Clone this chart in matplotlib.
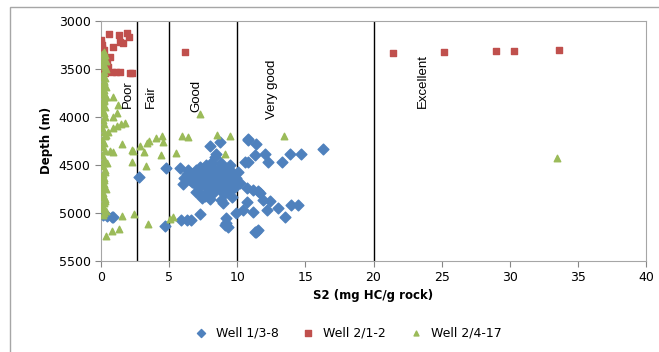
import numpy as np
import matplotlib.pyplot as plt
from matplotlib.patches import Rectangle

# Well 1/3-8 (blue diamonds)
w1_s2 = [0.17, 0.42, 0.78, 0.9, 2.8, 4.74, 4.7, 5.79, 6.1, 6.5, 7.25, 7.74, 8.1, 8.84, 9.45,
         10.06, 6.96, 7.5, 7.98, 8.48, 8.96, 9.45, 9.7, 7.13, 7.74, 8.35, 8.96, 9.7, 8.84,
         7.38, 8.0, 8.84, 9.58, 8.96, 10.55, 10.8, 11.4, 10.68, 11.16, 11.65, 11.9, 10.68,
         11.16, 10.42, 12.4, 13.0, 13.5, 13.97, 14.45, 16.3, 6.28, 5.9, 6.6, 7.25, 9.2, 9.08,
         9.33, 9.94, 11.4, 11.28, 11.5, 8.0, 8.7, 8.47, 11.28, 12.0, 12.25, 13.3, 13.85, 14.65,
         10.8, 12.16, 10.8, 11.5, 6.4, 6.8, 7.0, 7.6, 8.2, 8.6, 9.1, 9.6, 6.3, 7.2, 7.9, 8.5,
         9.3, 9.9, 6.0, 6.7, 7.4, 8.0, 8.7, 9.4, 7.0, 7.8, 8.3, 9.0, 9.6, 10.2, 8.4, 7.6, 9.2,
         7.3, 8.1, 8.9, 9.5, 7.7, 8.5, 6.6, 9.8, 8.2, 7.1]
w1_depth = [5026, 5036, 5043, 5043, 4627, 4540, 5140, 4540, 4644, 4660, 4523, 4505, 4488,
            4480, 4505, 4575, 4627, 4644, 4627, 4575, 4610, 4627, 4680, 4731, 4731, 4696,
            4713, 4748, 4765, 4852, 4862, 4870, 4835, 4904, 4470, 4245, 4283, 4748, 4765,
            4800, 4870, 4887, 4991, 4974, 4877, 4956, 5043, 4922, 4922, 4342, 5078, 5078,
            5078, 5020, 5061, 5130, 5148, 5009, 5200, 5200, 5183, 4308, 4262, 4390, 4400,
            4390, 4470, 4470, 4390, 4390, 4477, 4974, 4238, 4780, 4560, 4590, 4560, 4570,
            4550, 4540, 4560, 4580, 4600, 4600, 4600, 4600, 4650, 4640, 4700, 4680, 4680,
            4670, 4740, 4760, 4790, 4800, 4790, 4810, 4700, 4690, 4420, 4830, 5110,
            4660, 4650, 4660, 4620, 4620, 4720, 4600, 4730, 4760, 4780]

# Well 2/1-2 (red squares)
w2_s2 = [0.0, 0.0, 0.05, 0.17, 0.3, 0.42, 0.66, 0.54, 0.9, 1.4, 1.65, 0.58, 1.32, 1.93, 2.08,
         0.78, 1.1, 1.36, 2.13, 2.3, 0.3, 0.05, 0.1, 0.2, 0.35, 0.15, 0.25, 6.2,
         21.4, 25.2, 28.96, 30.3, 33.6]
w2_depth = [3238, 3203, 3290, 3342, 3394, 3440, 3377, 3481, 3273, 3220, 3230, 3140, 3151,
            3127, 3175, 3533, 3533, 3533, 3550, 3550, 3550, 3500, 3260, 3310, 3420, 3460,
            3520, 3331, 3342, 3325, 3318, 3318, 3311]

# Well 2/4-17 (green triangles)
w3_s2 = [0.25, 0.3, 0.2, 0.35, 0.15, 0.3, 0.4, 0.2, 0.1, 0.3, 0.25, 0.15, 0.35, 0.2, 0.1,
         0.3, 0.2, 0.25, 0.15, 0.3, 0.1, 0.2, 0.3, 0.15, 0.25, 0.05, 0.2, 0.3, 0.1, 0.2,
         0.15, 0.3, 0.1, 0.25, 0.2, 0.05, 0.3, 0.15, 0.2, 0.1, 0.25, 0.35, 0.15, 0.2, 0.3,
         0.1, 0.25, 0.2, 0.15, 0.3, 0.2, 0.1, 0.25, 0.35,
         0.1, 0.2, 0.05, 0.15, 0.25, 0.1, 0.05, 0.2, 0.1, 0.15, 0.05, 0.2, 0.1, 0.3, 0.05,
         0.9, 0.37, 1.27, 1.15, 0.9, 1.76, 1.5, 1.2, 0.9, 0.54, 0.4, 7.25, 1.52, 0.66, 0.9,
         2.25, 2.35, 2.86, 3.15, 3.4, 3.5, 4.0, 4.5, 4.55, 4.4, 5.5, 5.96, 6.42, 8.55, 9.45,
         9.08, 13.43, 2.27, 3.27, 0.42, 1.52, 2.44, 3.47, 1.34, 0.78, 0.37, 5.05, 5.3, 33.5]
w3_depth = [3330, 3360, 3390, 3420, 3450, 3480, 3510, 3540, 3570, 3600, 3630, 3660, 3690,
            3720, 3750, 3780, 3810, 3840, 3870, 3900, 3930, 3960, 4000, 4040, 4080, 4120,
            4160, 4200, 4240, 4280, 4320, 4360, 4400, 4440, 4480, 4520, 4560, 4600, 4640,
            4680, 4720, 4760, 4800, 4840, 4880, 4920, 4960, 5000, 5030, 4580, 4700, 4820,
            4900, 4980,
            3345, 3405, 3465, 3585, 3645, 3705, 3765, 3825, 3885, 3945, 4620, 4660, 4740,
            4860, 4950,
            3794, 3794, 3880, 3967, 4002, 4071, 4083, 4100, 4120, 4158, 4190, 3977, 4286,
            4356, 4366, 4349, 4356, 4307, 4366, 4280, 4257, 4220, 4200, 4263, 4400, 4383,
            4203, 4210, 4193, 4203, 4390, 4203, 4470, 4516, 4488, 5033, 5016, 5123, 5172,
            5193, 5242, 5068, 5050, 4435]

class_bounds = [2.65, 5, 10, 20]
class_names = ["Poor", "Fair", "Good", "Very good", "Excellent"]
class_x = [1.94, 3.67, 6.97, 12.55, 23.6]
class_y = [3766, 3792, 3781, 3714, 3630]

fig = plt.figure(figsize=(6.59, 3.52), dpi=100)
ax = fig.add_axes([101 / 659, 1 - 260.5 / 352, 545 / 659, 240 / 352])

# outer chart frame
fig.patches.append(Rectangle((10 / 659, -0.1), 1.2, 1 - 7 / 352 + 0.1, transform=fig.transFigure,
                             fill=False, edgecolor='#a6a6a6', lw=1))

ax.scatter(w1_s2, w1_depth, marker='D', s=30, color='#4F81BD', label='Well 1/3-8', zorder=3)
ax.scatter(w2_s2, w2_depth, marker='s', s=24, color='#C0504D', label='Well 2/1-2', zorder=3)
ax.scatter(w3_s2, w3_depth, marker='^', s=22, color='#9BBB59', label='Well 2/4-17', zorder=3)

for b in class_bounds:
    ax.axvline(b, color='black', lw=1, zorder=2)
for name, x, y in zip(class_names, class_x, class_y):
    ax.text(x, y, name, rotation=90, ha='center', va='center', fontsize=9.5,
            family='Liberation Sans')

ax.set_xlim(0, 40)
ax.set_ylim(5500, 3000)
ax.set_xticks(np.arange(0, 41, 5))
ax.set_yticks(np.arange(3000, 5501, 500))
ax.tick_params(labelsize=9, color='#868686', length=4)
for s in ax.spines.values():
    s.set_color('#a6a6a6')
ax.set_xlabel("S2 (mg HC/g rock)", fontsize=8.5, fontweight='bold')
ax.set_ylabel("Depth (m)", fontsize=8.5, fontweight='bold')

fig.legend(loc='center', bbox_to_anchor=(345 / 659, 1 - 333 / 352), ncol=3, frameon=False,
           fontsize=9, handletextpad=0.2, columnspacing=1.4, markerscale=0.75)

fig.savefig("out.png", dpi=100)
